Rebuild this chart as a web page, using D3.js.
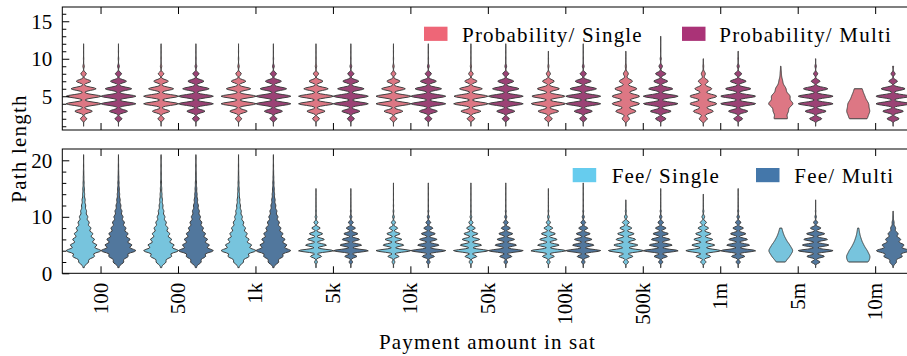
<!DOCTYPE html>
<html>
<head>
<meta charset="utf-8">
<script src="https://cdn.jsdelivr.net/npm/d3@7"></script>
<style>
  body { margin: 0; background: #fff; }
  svg text { font-family: "Liberation Serif", "Times New Roman", serif; fill: #000; }
</style>
</head>
<body>
<svg id="chart" width="907" height="356"></svg>
<script>
// payment amounts (x categories)
const categories = ["100", "500", "1k", "5k", "10k", "50k", "100k", "500k", "1m", "5m", "10m"];

// relative frequency of path length 1, 2, 3, ... for each payment amount
const probSingleFreq = [
  [0.004, 0.18, 0.5, 1, 1, 0.72, 0.42, 0.16, 0.04, 0.012, 0.005, 0.002],
  [0.004, 0.18, 0.5, 1, 1, 0.72, 0.42, 0.16, 0.04, 0.012, 0.005, 0.002],
  [0.004, 0.18, 0.5, 1, 1, 0.7, 0.42, 0.16, 0.04, 0.012, 0.005, 0.002],
  [0.004, 0.2, 0.52, 1, 1, 0.7, 0.4, 0.15, 0.04, 0.012, 0.005, 0.002],
  [0.004, 0.2, 0.54, 1, 1, 0.68, 0.38, 0.14, 0.04, 0.01, 0.005, 0.002],
  [0.004, 0.22, 0.58, 1, 0.98, 0.66, 0.36, 0.13, 0.035, 0.01, 0.005, 0.002],
  [0.004, 0.22, 0.6, 1, 0.96, 0.64, 0.34, 0.12, 0.03, 0.01, 0.004],
  [0.004, 0.26, 0.74, 1, 1, 0.8, 0.48, 0.18, 0.04, 0.01, 0.004],
  [0.004, 0.3, 0.74, 1, 1, 0.63, 0.37, 0.15, 0.03, 0.01],
  [0, 0.55, 0.6, 1, 0.75, 0.42, 0.15, 0.05, 0.02],
  [0, 0.8, 1, 0.9, 0.55, 0.35]
];
const probMultiFreq = [
  [0.004, 0.2, 0.52, 1, 1, 0.76, 0.46, 0.18, 0.05, 0.015, 0.006, 0.002],
  [0.004, 0.2, 0.52, 1, 1, 0.76, 0.46, 0.18, 0.05, 0.015, 0.006, 0.002],
  [0.004, 0.2, 0.52, 1, 1, 0.76, 0.46, 0.18, 0.05, 0.015, 0.006, 0.002],
  [0.004, 0.2, 0.52, 1, 1, 0.76, 0.46, 0.18, 0.05, 0.015, 0.006, 0.002],
  [0.004, 0.2, 0.52, 1, 1, 0.76, 0.46, 0.18, 0.05, 0.015, 0.006, 0.002],
  [0.004, 0.2, 0.52, 1, 1, 0.76, 0.46, 0.18, 0.05, 0.015, 0.006, 0.002],
  [0.004, 0.2, 0.52, 1, 1, 0.76, 0.46, 0.18, 0.05, 0.015, 0.006, 0.002],
  [0.004, 0.3, 0.6, 1, 1, 0.7, 0.4, 0.3, 0.1, 0.03, 0.01, 0.005, 0.002],
  [0.004, 0.25, 0.55, 1, 1, 0.72, 0.45, 0.2, 0.06, 0.02, 0.006],
  [0.004, 0.35, 0.6, 1, 1, 0.7, 0.25, 0.12, 0.04, 0.01],
  [0.004, 0.35, 0.6, 1, 1, 0.7, 0.25, 0.12, 0.03]
];
const feeSingleFreq = [
  [0.03, 0.28, 0.62, 1, 0.75, 0.62, 0.53, 0.42, 0.32, 0.24, 0.17, 0.12, 0.09, 0.06, 0.045, 0.03, 0.02, 0.013, 0.008, 0.005, 0.003],
  [0.03, 0.28, 0.6, 1, 0.74, 0.6, 0.5, 0.4, 0.3, 0.22, 0.16, 0.11, 0.08, 0.055, 0.04, 0.028, 0.018, 0.012, 0.008, 0.005, 0.003],
  [0.03, 0.28, 0.6, 1, 0.74, 0.6, 0.5, 0.4, 0.3, 0.22, 0.16, 0.11, 0.08, 0.055, 0.04, 0.028, 0.018, 0.012, 0.008, 0.005, 0.003],
  [0.01, 0.08, 0.32, 1, 0.6, 0.48, 0.38, 0.24, 0.12, 0.05, 0.02, 0.01, 0.005, 0.003, 0.002],
  [0.01, 0.08, 0.32, 1, 0.6, 0.48, 0.38, 0.24, 0.12, 0.05, 0.02, 0.01, 0.005, 0.003, 0.002, 0.001],
  [0.01, 0.1, 0.34, 1, 0.62, 0.5, 0.4, 0.25, 0.12, 0.05, 0.02, 0.01, 0.005, 0.003, 0.002, 0.001],
  [0.01, 0.1, 0.34, 1, 0.62, 0.5, 0.4, 0.25, 0.12, 0.05, 0.02, 0.01, 0.005, 0.003, 0.002],
  [0.01, 0.15, 0.4, 1, 0.68, 0.56, 0.47, 0.34, 0.2, 0.08, 0.03, 0.01, 0.004],
  [0.01, 0.15, 0.42, 1, 0.66, 0.54, 0.44, 0.3, 0.18, 0.08, 0.03, 0.012, 0.006, 0.003],
  [0, 0.35, 0.7, 1, 0.7, 0.4, 0.2, 0.08],
  [0, 0.9, 1, 0.75, 0.45, 0.25, 0.12, 0.05]
];
const feeMultiFreq = [
  [0.03, 0.3, 0.55, 1, 0.76, 0.66, 0.55, 0.43, 0.34, 0.26, 0.2, 0.14, 0.1, 0.07, 0.05, 0.035, 0.025, 0.015, 0.01, 0.006, 0.003],
  [0.03, 0.3, 0.55, 1, 0.76, 0.66, 0.55, 0.43, 0.34, 0.26, 0.2, 0.14, 0.1, 0.07, 0.05, 0.035, 0.025, 0.015, 0.01, 0.006, 0.003],
  [0.03, 0.3, 0.55, 1, 0.76, 0.66, 0.55, 0.43, 0.34, 0.26, 0.2, 0.14, 0.1, 0.07, 0.05, 0.035, 0.025, 0.015, 0.01, 0.006, 0.003],
  [0.01, 0.1, 0.35, 1, 0.62, 0.5, 0.4, 0.26, 0.14, 0.06, 0.025, 0.012, 0.006, 0.003, 0.002],
  [0.01, 0.1, 0.35, 1, 0.62, 0.5, 0.4, 0.26, 0.14, 0.06, 0.025, 0.012, 0.006, 0.003, 0.002, 0.001],
  [0.01, 0.1, 0.35, 1, 0.62, 0.5, 0.4, 0.26, 0.14, 0.06, 0.025, 0.012, 0.006, 0.003, 0.002, 0.001],
  [0.01, 0.1, 0.35, 1, 0.62, 0.5, 0.4, 0.26, 0.14, 0.06, 0.025, 0.012, 0.006, 0.003, 0.002, 0.001],
  [0.01, 0.12, 0.38, 1, 0.66, 0.54, 0.44, 0.3, 0.16, 0.07, 0.03, 0.012, 0.006, 0.003, 0.002],
  [0.01, 0.12, 0.38, 1, 0.66, 0.54, 0.44, 0.3, 0.16, 0.07, 0.03, 0.012, 0.006, 0.003, 0.002],
  [0.005, 0.25, 0.5, 1, 0.75, 0.68, 0.52, 0.3, 0.12, 0.04, 0.015, 0.006, 0.003],
  [0.01, 0.2, 0.55, 1, 0.65, 0.45, 0.3, 0.15, 0.06, 0.02, 0.008]
];

// successful payments per amount (relative), used for the violin widths
const probSingleCount = [1000, 1000, 1000, 1000, 1000, 990, 980, 780, 770, 690, 660];
const probMultiCount = [1000, 1000, 1000, 1000, 1000, 1000, 1000, 1000, 1000, 1000, 980];
const feeSingleCount = [1000, 1000, 1000, 1000, 1000, 1000, 1000, 1000, 1000, 680, 670];
const feeMultiCount = [1000, 1000, 1000, 1000, 1000, 1000, 1000, 1000, 1000, 1000, 950];

// kernel bandwidth (hops) of each density estimate
const probSingleBw = [0.2, 0.2, 0.2, 0.2, 0.2, 0.2, 0.21, 0.26, 0.26, 0.42, 0.5];
const probMultiBw = [0.2, 0.2, 0.2, 0.2, 0.2, 0.2, 0.2, 0.2, 0.2, 0.2, 0.2];
const feeSingleBw = [0.36, 0.36, 0.36, 0.22, 0.22, 0.22, 0.22, 0.24, 0.24, 0.55, 0.55];
const feeMultiBw = [0.36, 0.36, 0.36, 0.22, 0.22, 0.22, 0.22, 0.22, 0.22, 0.22, 0.34];

const W = 907, H = 356;
const left = 62.3, right = 914.4;
const svg = d3.select("#chart");

const x = d3.scaleBand().domain(categories).range([left, right]).padding(0);
const halfMax = x.bandwidth() * 0.225;   // max half width of a violin
const offset = x.bandwidth() * 0.225;     // dodge between single / multi

const panels = [
  {
    top: 7, bottom: 130, domain: [0.5, 16.9], major: [5, 10, 15],
    minor: d3.range(1, 17).filter(v => v % 5),
    series: [
      {name: "Probability/ Single", freq: probSingleFreq, count: probSingleCount, bw: probSingleBw, fill: "#dd7784", legend: "#ee6677", side: -1},
      {name: "Probability/ Multi", freq: probMultiFreq, count: probMultiCount, bw: probMultiBw, fill: "#9b4275", legend: "#aa3377", side: 1}
    ],
    legend: [[424, 462], [682, 719.3]], legendY: 41.5
  },
  {
    top: 149, bottom: 273.3, domain: [0, 22], major: [0, 10, 20],
    minor: d3.range(2, 22, 2).filter(v => v % 10),
    series: [
      {name: "Fee/ Single", freq: feeSingleFreq, count: feeSingleCount, bw: feeSingleBw, fill: "#77c4dd", legend: "#66ccee", side: -1},
      {name: "Fee/ Multi", freq: feeMultiFreq, count: feeMultiCount, bw: feeMultiBw, fill: "#51779d", legend: "#4477aa", side: 1}
    ],
    legend: [[572.7, 611.7], [756, 794.3]], legendY: 182.8
  }
];

// gaussian kde on integer path lengths, cut at data range, 100 grid points
function kde(freq, bw) {
  const pts = freq.map((w, i) => [i + 1, w]).filter(d => d[1] > 0);
  const lo = pts[0][0], hi = pts[pts.length - 1][0];
  const grid = d3.range(100).map(i => lo + (hi - lo) * i / 99);
  const dens = grid.map(v => d3.sum(pts, ([k, w]) => w * Math.exp(-0.5 * ((v - k) / bw) ** 2)));
  const peak = d3.max(dens);
  return grid.map((v, i) => ({v: v, d: dens[i] / peak}));
}

panels.forEach((p, pi) => {
  const y = d3.scaleLinear().domain(p.domain).range([p.bottom, p.top]);
  const clipId = "clip" + pi;
  svg.append("clipPath").attr("id", clipId)
    .append("rect").attr("x", left).attr("y", p.top)
    .attr("width", right - left).attr("height", p.bottom - p.top);

  const maxCount = d3.max(p.series, s => d3.max(s.count));
  const g = svg.append("g").attr("clip-path", `url(#${clipId})`);

  p.series.forEach(s => {
    categories.forEach((c, ci) => {
      const cx = x(c) + x.bandwidth() / 2 + s.side * offset;
      const scale = halfMax * s.count[ci] / maxCount;
      const area = d3.area()
        .y(d => y(d.v))
        .x0(d => cx - d.d * scale)
        .x1(d => cx + d.d * scale);
      g.append("path")
        .attr("d", area(kde(s.freq[ci], s.bw[ci])))
        .attr("fill", s.fill)
        .attr("stroke", "#3f3f3f")
        .attr("stroke-width", 1)
        .attr("stroke-linejoin", "round");
    });
  });

  // ticks, all pointing inward
  const axes = [
    [d3.axisLeft(y).tickValues(p.major).tickSize(-7).tickPadding(10), `translate(${left},0)`],
    [d3.axisLeft(y).tickValues(p.minor).tickSize(-4).tickFormat(""), `translate(${left},0)`],
    [d3.axisRight(y).tickValues(p.major).tickSize(-7).tickFormat(""), `translate(${right},0)`],
    [d3.axisRight(y).tickValues(p.minor).tickSize(-4).tickFormat(""), `translate(${right},0)`],
    [d3.axisBottom(x).tickSize(-7).tickFormat(""), `translate(0,${p.bottom})`],
    [d3.axisTop(x).tickSize(-7).tickFormat(""), `translate(0,${p.top})`]
  ];
  axes.forEach(([ax, tr]) => {
    const a = svg.append("g").attr("transform", tr).call(ax);
    a.select(".domain").remove();
    a.selectAll("line").attr("stroke", "#000").attr("stroke-width", 1);
    a.selectAll("text")
      .attr("font-family", "Liberation Serif, serif")
      .attr("font-size", 21)
      .attr("dy", "0.33em");
  });

  svg.append("rect")
    .attr("x", left).attr("y", p.top)
    .attr("width", right - left).attr("height", p.bottom - p.top)
    .attr("fill", "none").attr("stroke", "#000").attr("stroke-width", 1);

  // legend
  p.series.forEach((s, si) => {
    const [px, tx] = p.legend[si];
    svg.append("rect")
      .attr("x", px).attr("y", p.legendY - 14.8)
      .attr("width", 23.5).attr("height", 14.2)
      .attr("fill", s.legend);
    svg.append("text")
      .attr("x", tx).attr("y", p.legendY)
      .attr("font-size", 21)
      .attr("letter-spacing", 1.2)
      .text(s.name);
  });

  if (pi === 1) {
    svg.append("g").selectAll("text")
      .data(categories)
      .join("text")
      .attr("transform", d => `translate(${x(d) + x.bandwidth() / 2 + 6.5},${p.bottom + 9.5}) rotate(-90)`)
      .attr("text-anchor", "end")
      .attr("font-size", 21)
      .text(d => d);
  }
});

svg.append("text")
  .attr("transform", "translate(25.5,148.5) rotate(-90)")
  .attr("text-anchor", "middle")
  .attr("font-size", 21)
  .attr("letter-spacing", 1.2)
  .text("Path length");

svg.append("text")
  .attr("x", 487.5).attr("y", 348.5)
  .attr("text-anchor", "middle")
  .attr("font-size", 21)
  .attr("letter-spacing", 1.2)
  .text("Payment amount in sat");
</script>
</body>
</html>
